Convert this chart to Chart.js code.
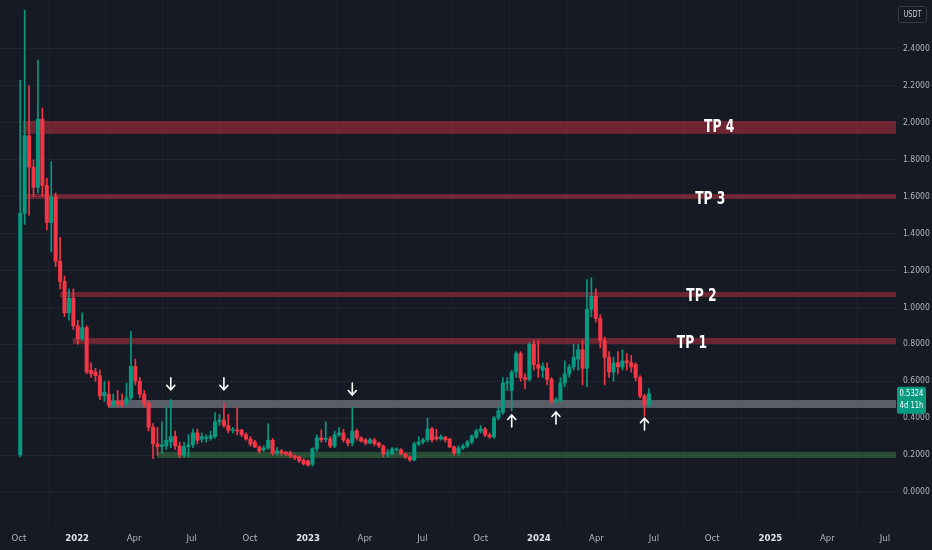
<!DOCTYPE html>
<html><head><meta charset="utf-8">
<script src="https://cdn.jsdelivr.net/npm/chart.js@4.4.1/dist/chart.umd.min.js"></script>
<style>html,body{margin:0;padding:0;background:#161a25;overflow:hidden}canvas{display:block}</style>
</head><body>
<canvas id="c" width="932" height="550" style="width:932px;height:550px"></canvas>
<script>
// ---------- DATA ----------
const axisOrigin = '2021-10-01';
const firstWeek = '2021-10-03';
const opens = [0.20,1.51,1.93,1.76,1.65,2.02,1.66,1.46,1.60,1.25,1.14,0.97,1.05,0.90,0.83,0.89,0.66,0.65,0.63,0.52,
0.53,0.47,0.49,0.49,0.48,0.51,0.68,0.60,0.53,0.48,0.35,0.26,0.245,0.25,0.27,0.30,0.25,0.20,0.245,0.255,
0.32,0.285,0.29,0.29,0.30,0.38,0.39,0.36,0.333,0.336,0.335,0.31,0.287,0.27,0.244,0.228,0.238,0.28,0.21,0.222,
0.215,0.211,0.195,0.19,0.173,0.168,0.15,0.235,0.293,0.285,0.287,0.249,0.309,0.320,0.282,0.265,0.330,0.293,0.282,0.265,
0.282,0.265,0.249,0.206,0.206,0.228,0.228,0.206,0.19,0.173,0.26,0.271,0.282,0.341,0.298,0.287,0.298,0.287,0.244,0.211,
0.238,0.249,0.271,0.298,0.330,0.341,0.309,0.298,0.40,0.43,0.59,0.55,0.65,0.75,0.62,0.61,0.80,0.69,0.66,0.67,
0.61,0.49,0.495,0.59,0.64,0.677,0.72,0.77,0.67,0.99,1.06,0.94,0.82,0.73,0.65,0.70,0.677,0.71,0.70,0.69,
0.62,0.52,0.47];
const highs = [2.23,2.61,2.20,1.80,2.34,2.08,1.70,1.79,1.62,1.38,1.17,1.10,1.10,0.93,0.97,0.90,0.70,0.67,0.66,0.60,
0.60,0.53,0.55,0.53,0.59,0.87,0.72,0.62,0.55,0.49,0.37,0.35,0.38,0.46,0.50,0.33,0.27,0.27,0.31,0.34,
0.34,0.32,0.31,0.33,0.43,0.42,0.48,0.42,0.35,0.46,0.34,0.32,0.30,0.28,0.25,0.25,0.37,0.29,0.24,0.23,
0.22,0.22,0.20,0.195,0.18,0.175,0.24,0.31,0.336,0.38,0.30,0.33,0.35,0.34,0.29,0.46,0.34,0.30,0.29,0.29,
0.29,0.27,0.255,0.23,0.24,0.24,0.235,0.21,0.195,0.27,0.30,0.29,0.40,0.35,0.34,0.31,0.30,0.29,0.25,0.25,
0.26,0.28,0.31,0.34,0.36,0.35,0.32,0.41,0.46,0.62,0.62,0.66,0.76,0.76,0.64,0.81,0.82,0.82,0.70,0.70,
0.62,0.51,0.62,0.71,0.69,0.80,0.80,0.82,1.15,1.16,1.10,0.96,0.84,0.76,0.73,0.76,0.77,0.75,0.74,0.70,
0.63,0.53,0.56];
const lows = [0.19,1.45,1.50,1.60,1.62,1.60,1.42,1.30,1.22,1.10,0.95,0.93,0.88,0.80,0.82,0.64,0.62,0.60,0.50,0.49,
0.46,0.46,0.46,0.46,0.47,0.50,0.58,0.51,0.46,0.33,0.18,0.20,0.21,0.23,0.24,0.23,0.185,0.19,0.19,0.24,
0.26,0.27,0.27,0.28,0.29,0.36,0.35,0.32,0.32,0.31,0.30,0.28,0.25,0.24,0.21,0.22,0.23,0.20,0.20,0.20,
0.195,0.185,0.175,0.16,0.145,0.14,0.14,0.22,0.27,0.27,0.24,0.24,0.30,0.27,0.25,0.25,0.28,0.27,0.255,0.26,
0.25,0.24,0.19,0.19,0.20,0.22,0.20,0.18,0.165,0.17,0.25,0.26,0.27,0.27,0.28,0.28,0.27,0.24,0.20,0.20,
0.23,0.24,0.26,0.29,0.32,0.30,0.29,0.29,0.39,0.42,0.55,0.44,0.62,0.60,0.56,0.60,0.66,0.62,0.62,0.58,
0.48,0.48,0.49,0.57,0.62,0.66,0.66,0.58,0.57,0.95,0.92,0.78,0.58,0.62,0.60,0.64,0.66,0.66,0.65,0.60,
0.51,0.41,0.46];
const closes = [1.51,1.93,1.76,1.65,2.02,1.66,1.46,1.60,1.25,1.14,0.97,1.05,0.90,0.83,0.89,0.65,0.64,0.63,0.52,0.54,
0.47,0.49,0.475,0.475,0.51,0.68,0.60,0.53,0.48,0.35,0.26,0.245,0.255,0.28,0.30,0.25,0.20,0.245,0.255,0.32,
0.28,0.30,0.295,0.305,0.38,0.39,0.36,0.335,0.336,0.33,0.31,0.287,0.26,0.244,0.222,0.238,0.28,0.21,0.222,0.211,
0.205,0.195,0.184,0.168,0.152,0.146,0.235,0.293,0.282,0.287,0.249,0.309,0.320,0.282,0.265,0.330,0.293,0.276,0.265,0.282,
0.262,0.249,0.206,0.208,0.233,0.230,0.206,0.19,0.173,0.26,0.271,0.282,0.341,0.282,0.287,0.298,0.282,0.244,0.211,0.238,
0.249,0.271,0.303,0.330,0.341,0.309,0.298,0.40,0.44,0.59,0.596,0.65,0.75,0.62,0.61,0.80,0.69,0.67,0.68,0.61,
0.49,0.50,0.59,0.64,0.677,0.73,0.77,0.67,0.99,1.06,0.94,0.82,0.73,0.65,0.70,0.677,0.71,0.70,0.677,0.62,
0.52,0.47,0.5324];
const yTicks = [0,0.2,0.4,0.6,0.8,1.0,1.2,1.4,1.6,1.8,2.0,2.2,2.4];
const xTickDates = ['2021-10-01','2022-01-01','2022-04-01','2022-07-01','2022-10-01','2023-01-01','2023-04-01','2023-07-01',
'2023-10-01','2024-01-01','2024-04-01','2024-07-01','2024-10-01','2025-01-01','2025-04-01','2025-07-01'];
const xTickLabels = ['Oct','2022','Apr','Jul','Oct','2023','Apr','Jul','Oct','2024','Apr','Jul','Oct','2025','Apr','Jul'];
// zones (price levels)
const zoneNames = ['TP 4','TP 3','TP 2','TP 1','support','bottom'];
const zoneStart = ['2021-10-07','2021-10-10','2021-12-05','2021-12-25','2022-02-19','2022-05-07'];
const zoneLow  = [1.94,1.587,1.056,0.802,0.455,0.184];
const zoneHigh = [2.01,1.614,1.083,0.834,0.498,0.217];
// target labels
const tpLabels = ['TP 4','TP 3','TP 2','TP 1'];
const tpDates  = ['2024-10-12','2024-09-28','2024-09-14','2024-08-30'];
const tpValues = [1.977,1.587,1.062,0.804];
// arrows (candle index, price at arrow tip)
const downArrowIdx = [34,46,75];
const downArrowTip = [0.553,0.553,0.525];
const upArrowIdx = [111,121,141];
const upArrowTip = [0.417,0.433,0.40];
const lastPriceText = '0.5324';
const countdownText = '4d 11h';
const currencyText = 'USDT';

// ---------- STYLE ----------
const BG = '#161a25';
const UP = '#089981', DOWN = '#f23645';
const GRID = 'rgba(42,46,57,0.55)';
const zoneColors = ['rgba(242,54,69,0.40)','rgba(242,54,69,0.40)','rgba(242,54,69,0.40)','rgba(242,54,69,0.40)',
  'rgba(185,188,198,0.42)','rgba(76,175,80,0.35)'];
const FONT = '"DejaVu Sans Condensed", "Liberation Sans", sans-serif';

const X0 = Date.parse(axisOrigin + 'T00:00:00Z');
const dayOf = s => (Date.parse(s + 'T00:00:00Z') - X0) / 864e5;
const start = dayOf(firstWeek);
const candleDays = opens.map((_, i) => start + 7 * i);
const colors = opens.map((o, i) => closes[i] >= o ? UP : DOWN);

// condensed text helper (horizontal squeeze)
function squeezeText(ctx, txt, x, y, sx) {
  ctx.save(); ctx.translate(x, y); ctx.scale(sx, 1); ctx.fillText(txt, 0, 0); ctx.restore();
}

const bgPlugin = {
  id: 'bg',
  beforeDraw(chart) {
    const c = chart.ctx; c.save(); c.fillStyle = BG; c.fillRect(0, 0, chart.width, chart.height); c.restore();
  }
};
const zonePlugin = {
  id: 'zones',
  beforeDatasetsDraw(chart) {
    const {ctx, chartArea: a, scales: {x, y}} = chart;
    ctx.save();
    ctx.beginPath(); ctx.rect(a.left, a.top, a.width, a.height); ctx.clip();
    zoneNames.forEach((n, i) => {
      const x0 = x.getPixelForValue(dayOf(zoneStart[i]));
      const y0 = y.getPixelForValue(zoneHigh[i]);
      const y1 = y.getPixelForValue(zoneLow[i]);
      ctx.fillStyle = zoneColors[i];
      ctx.fillRect(x0, y0, a.right - x0, y1 - y0);
    });
    ctx.restore();
  }
};
const notePlugin = {
  id: 'notes',
  afterDatasetsDraw(chart) {
    const {ctx, scales: {x, y}} = chart;
    ctx.save();
    ctx.fillStyle = '#ffffff';
    ctx.font = 'bold 18px ' + FONT;
    ctx.textAlign = 'center'; ctx.textBaseline = 'middle';
    tpLabels.forEach((t, i) => squeezeText(ctx, t, x.getPixelForValue(dayOf(tpDates[i])), y.getPixelForValue(tpValues[i]), 0.76));
    ctx.strokeStyle = '#ffffff'; ctx.lineWidth = 1.6; ctx.lineCap = 'round';
    const arrow = (px, py, dir) => {
      ctx.beginPath();
      ctx.moveTo(px, py); ctx.lineTo(px, py - dir * 12);
      ctx.moveTo(px - 4, py - dir * 4.5); ctx.lineTo(px, py); ctx.lineTo(px + 4, py - dir * 4.5);
      ctx.stroke();
    };
    downArrowIdx.forEach((k, i) => arrow(x.getPixelForValue(candleDays[k]), y.getPixelForValue(downArrowTip[i]), 1));
    upArrowIdx.forEach((k, i) => arrow(x.getPixelForValue(candleDays[k]), y.getPixelForValue(upArrowTip[i]), -1));
    ctx.restore();
  }
};
const axisPlugin = {
  id: 'axisExtras',
  afterDraw(chart) {
    const {ctx, chartArea: a, scales: {y}} = chart;
    ctx.save();
    // currency box
    ctx.strokeStyle = '#363a45'; ctx.lineWidth = 1;
    ctx.beginPath(); ctx.roundRect(a.right + 2.5, 6.5, 28, 16, 2); ctx.stroke();
    ctx.fillStyle = '#d1d4dc'; ctx.font = '9px ' + FONT; ctx.textAlign = 'center'; ctx.textBaseline = 'middle';
    squeezeText(ctx, currencyText, a.right + 16.5, 15, 0.8);
    // last price label (first line centred on the price)
    const py = y.getPixelForValue(closes[closes.length - 1]);
    ctx.fillStyle = UP;
    ctx.beginPath(); ctx.roundRect(a.right + 1, py - 7, 29, 27, 2); ctx.fill();
    ctx.fillStyle = '#ffffff'; ctx.font = '9.5px ' + FONT;
    squeezeText(ctx, lastPriceText, a.right + 15.5, py, 0.8);
    squeezeText(ctx, countdownText, a.right + 15.5, py + 12, 0.8);
    ctx.restore();
  }
};

new Chart(document.getElementById('c'), {
  type: 'bar',
  data: {
    datasets: [
      { label: 'wick', data: candleDays.map((d, i) => ({x: d, y: [lows[i], highs[i]]})),
        backgroundColor: colors, barThickness: 1, grouped: false, order: 1 },
      { label: 'body', data: candleDays.map((d, i) => ({x: d, y: [opens[i], closes[i]]})),
        backgroundColor: colors, barThickness: 3.4, minBarLength: 1, grouped: false, order: 0 }
    ]
  },
  options: {
    responsive: false, animation: false, devicePixelRatio: 1,
    layout: { padding: 0 },
    plugins: { legend: { display: false }, tooltip: { enabled: false } },
    scales: {
      x: {
        type: 'linear', min: -30, max: 1386.6, offset: false,
        grid: { color: 'rgba(42,46,57,0.35)', drawTicks: false },
        border: { display: false },
        afterBuildTicks: s => { s.ticks = xTickDates.map(d => ({value: dayOf(d)})); },
        afterFit: s => { s.height = 25; s.paddingLeft = 0; s.paddingRight = 0; },
        ticks: {
          autoSkip: false, maxRotation: 0, padding: 8,
          color: c => /^\d{4}$/.test(xTickLabels[c.index]) ? '#e0e3eb' : '#b2b5be',
          font: c => ({ family: FONT, size: 9.5, weight: /^\d{4}$/.test(xTickLabels[c.index]) ? 'bold' : 'normal' }),
          callback: (v, i) => xTickLabels[i]
        }
      },
      y: {
        type: 'linear', position: 'right', min: -0.179, max: 2.665,
        grid: { color: GRID, drawTicks: false },
        border: { display: false },
        afterBuildTicks: s => { s.ticks = yTicks.map(v => ({value: v})); },
        afterFit: s => { s.width = 36; s.paddingTop = 0; s.paddingBottom = 0; },
        ticks: { color: '#b2b5be', padding: 7, crossAlign: 'near', font: { family: FONT, size: 8.5 },
          callback: v => Number(v).toFixed(4) }
      }
    }
  },
  plugins: [bgPlugin, zonePlugin, notePlugin, axisPlugin]
});
</script>
</body></html>
